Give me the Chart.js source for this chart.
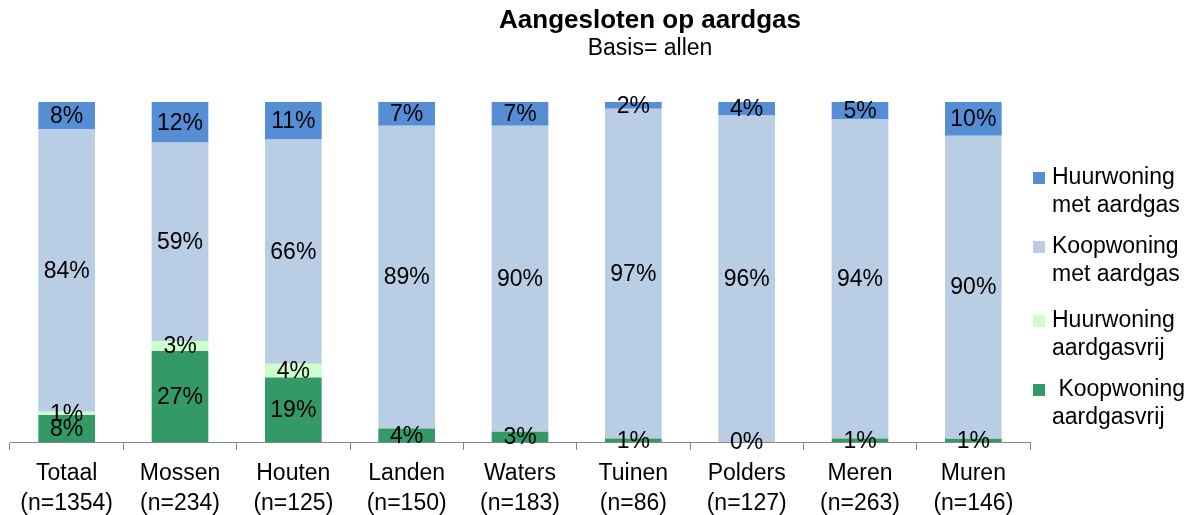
<!DOCTYPE html>
<html>
<head>
<meta charset="utf-8">
<script src="https://cdn.jsdelivr.net/npm/chart.js@4"></script>
<style>
  html, body { margin: 0; padding: 0; background: #fff; }
  canvas { display: block; }
</style>
</head>
<body>
<canvas id="myChart" width="1198" height="515"></canvas>
<script>
const categories = ['Totaal', 'Mossen', 'Houten', 'Landen', 'Waters', 'Tuinen', 'Polders', 'Meren', 'Muren'];
const sampleSizes = ['(n=1354)', '(n=234)', '(n=125)', '(n=150)', '(n=183)', '(n=86)', '(n=127)', '(n=263)', '(n=146)'];

// percentages as printed in the chart
const koopVrij = [8, 27, 19, 4, 3, 1, 0, 1, 1];
const huurVrij = [1, 3, 4, null, null, null, null, null, null];
const koopMet = [84, 59, 66, 89, 90, 97, 96, 94, 90];
const huurMet = [8, 12, 11, 7, 7, 2, 4, 5, 10];

const FONT = "'Liberation Sans', Arial, sans-serif";

// 100% stacked: scale each column to its own total
const totals = categories.map((c, i) =>
  [koopVrij, huurVrij, koopMet, huurMet].reduce((s, arr) => s + (arr[i] || 0), 0));
const share = arr => arr.map((v, i) => v === null ? null : v / totals[i] * 100);

const series = [
  { label: [' Koopwoning', 'aardgasvrij'], raw: koopVrij, color: '#339966' },
  { label: ['Huurwoning', 'aardgasvrij'], raw: huurVrij, color: '#CCFFCC' },
  { label: ['Koopwoning', 'met aardgas'], raw: koopMet, color: '#B9CDE5' },
  { label: ['Huurwoning', 'met aardgas'], raw: huurMet, color: '#558ED5' }
];

// value labels in the middle of every segment
const valueLabels = {
  id: 'valueLabels',
  afterDatasetsDraw(chart) {
    const ctx = chart.ctx;
    ctx.save();
    ctx.font = '23px ' + FONT;
    ctx.fillStyle = '#000';
    ctx.textAlign = 'center';
    ctx.textBaseline = 'middle';
    chart.data.datasets.forEach((ds, di) => {
      const meta = chart.getDatasetMeta(di);
      meta.data.forEach((bar, i) => {
        const v = series[di].raw[i];
        if (v === null) return;
        const p = bar.getProps(['x', 'y', 'base'], true);
        ctx.fillText(v + '%', p.x, (p.y + p.base) / 2 + 1);
      });
    });
    ctx.restore();
  }
};

// title, subtitle and legend on the right
const decorations = {
  id: 'decorations',
  afterDraw(chart) {
    const ctx = chart.ctx;
    ctx.save();
    ctx.fillStyle = '#000';
    ctx.textAlign = 'center';
    ctx.textBaseline = 'alphabetic';
    ctx.font = 'bold 26px ' + FONT;
    ctx.fillText('Aangesloten op aardgas', 650, 28);
    ctx.font = '23px ' + FONT;
    ctx.fillText('Basis= allen', 650, 55);

    ctx.textAlign = 'left';
    ctx.textBaseline = 'middle';
    const rows = [178, 247, 321, 390];
    series.slice().reverse().forEach((s, k) => {
      ctx.fillStyle = s.color;
      ctx.fillRect(1033, rows[k] - 6, 12, 12);
      ctx.fillStyle = '#000';
      s.label.forEach((line, j) => ctx.fillText(line, 1052, rows[k] + j * 28));
    });
    ctx.restore();
  }
};

new Chart('myChart', {
  type: 'bar',
  data: {
    labels: categories.map((c, i) => [c, sampleSizes[i]]),
    datasets: series.map(s => ({
      label: s.label.join(' '),
      data: share(s.raw),
      backgroundColor: s.color,
      borderWidth: 0,
      barPercentage: 0.5,
      categoryPercentage: 1
    }))
  },
  options: {
    responsive: false,
    devicePixelRatio: 1,
    animation: false,
    layout: { padding: { left: 10, right: 168, top: 102, bottom: 0 } },
    plugins: {
      legend: { display: false },
      title: { display: false },
      tooltip: { enabled: false }
    },
    scales: {
      x: {
        stacked: true,
        afterFit(scale) { scale.height = 73; },
        grid: { offset: true, drawOnChartArea: false, tickLength: 8, color: '#868686' },
        border: { color: '#868686' },
        ticks: {
          color: '#000',
          padding: 8,
          font: { family: FONT, size: 23, lineHeight: 1.32 }
        }
      },
      y: {
        stacked: true,
        display: false,
        min: 0,
        max: 100
      }
    }
  },
  plugins: [valueLabels, decorations]
});
</script>
</body>
</html>
